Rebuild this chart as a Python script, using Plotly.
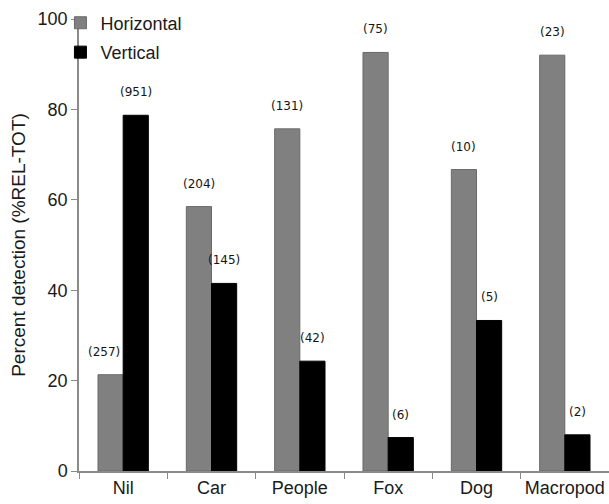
import plotly.graph_objects as go

categories = ["Nil", "Car", "People", "Fox", "Dog", "Macropod"]
horizontal_pct = [21.3, 58.5, 75.7, 92.6, 66.7, 92.0]
vertical_pct = [78.7, 41.5, 24.3, 7.4, 33.3, 8.0]
horizontal_n = [257, 204, 131, 75, 10, 23]
vertical_n = [951, 145, 42, 6, 5, 2]
y_ticks = [0, 20, 40, 60, 80, 100]

GRAY = "#808080"
BLACK = "#000000"
AXIS = "#8a8a8a"
TXT = "#1a1a1a"

fig = go.Figure()
fig.add_trace(go.Bar(
    x=categories, y=horizontal_pct, name="Horizontal",
    marker=dict(color=GRAY, line=dict(color="#6a6a6a", width=1)),
    legendgroup="h",
))
fig.add_trace(go.Bar(
    x=categories, y=vertical_pct, name="Vertical",
    marker=dict(color=BLACK, line=dict(color=BLACK, width=1)),
    legendgroup="v",
))

BAR_GAP = 0.43
half = (1 - BAR_GAP) / 4
# small horizontal nudge so a label does not run into the neighbouring bar
label_nudge = {(0, "h"): -7}
annotations = []
for i, cat in enumerate(categories):
    for key, val, n, off in (("h", horizontal_pct[i], horizontal_n[i], -half),
                             ("v", vertical_pct[i], vertical_n[i], half)):
        annotations.append(dict(
            x=i + off, y=val, xref="x", yref="y",
            text=f"({n})", showarrow=False, yshift=23,
            xshift=label_nudge.get((i, key), 0),
            font=dict(family="DejaVu Sans", size=12, color="#151515"),
        ))

fig.update_layout(
    width=609, height=504,
    margin=dict(l=79, r=0, t=19, b=33, autoexpand=False),
    paper_bgcolor="white", plot_bgcolor="white",
    barmode="group", bargap=BAR_GAP, bargroupgap=0,
    font=dict(family="Liberation Sans, Arial", color=TXT),
    showlegend=True,
    legend=dict(
        x=-0.035, y=1.032, xanchor="left", yanchor="top",
        font=dict(size=18, color=TXT),
        bgcolor="rgba(0,0,0,0)",
        traceorder="grouped", tracegroupgap=3,
        itemwidth=30,
    ),
    annotations=annotations,
    xaxis=dict(
        type="category", range=[-0.5, 5.5],
        showline=True, linecolor=AXIS, linewidth=1.5,
        ticks="outside", tickson="boundaries", ticklen=6, tickcolor=AXIS,
        tickfont=dict(size=18, color=TXT), tickangle=0,
        showgrid=False, zeroline=False,
    ),
    yaxis=dict(
        range=[0, 100], tickvals=y_ticks,
        showline=True, linecolor=AXIS, linewidth=1.5,
        ticks="outside", ticklen=6, tickcolor=AXIS,
        tickfont=dict(size=18, color=TXT),
        showgrid=False, zeroline=False,
        title=dict(text="Percent detection (%REL-TOT)",
                   font=dict(size=19, color=TXT), standoff=7),
    ),
)

fig.write_html(
    "out.html",
    config={"displayModeBar": False},
    post_script="document.body.style.margin='0';document.body.style.overflow='hidden';",
)
